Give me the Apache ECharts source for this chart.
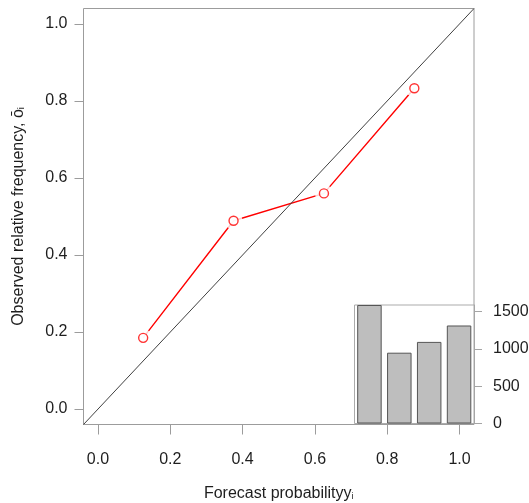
<!DOCTYPE html>
<html>
<head>
<meta charset="utf-8">
<title>Reliability diagram</title>
<script src="https://cdn.jsdelivr.net/npm/echarts@6/dist/echarts.min.js"></script>
<style>
  html, body { margin: 0; padding: 0; background: #fff; }
  #chart { width: 529px; height: 503px; }
</style>
</head>
<body>
<div id="chart"></div>
<script>
// Reliability diagram: observed frequency per forecast-probability bin,
// with a sharpness histogram (cases per bin) in the lower-right corner.
const forecastProb = [0.125, 0.375, 0.625, 0.875];
const observedFreq = [0.185, 0.489, 0.560, 0.833];
const binLabels = ['1', '2', '3', '4'];
const binCounts = [1590, 950, 1095, 1315];

const probTicks = [0, 0.2, 0.4, 0.6, 0.8, 1.0];
const countTicks = [0, 500, 1000, 1500];

const axisMin = -0.04;
const axisMax = 1.04;

const FONT = 'Liberation Sans, Arial, Helvetica, sans-serif';
const TEXT = '#1e1e1e';
const FRAME = '#9c9c9c';

const points = forecastProb.map((p, i) => [p, observedFreq[i]]);

const chart = echarts.init(document.getElementById('chart'), null, { renderer: 'canvas' });

const titleRich = {
  a: { fontSize: 16, color: TEXT, fontFamily: FONT },
  s: { fontSize: 9, color: TEXT, fontFamily: FONT, verticalAlign: 'bottom', padding: [7, 0, 0, 0] }
};

chart.setOption({
  animation: false,
  backgroundColor: '#ffffff',
  textStyle: { fontFamily: FONT },
  grid: [
    {
      left: 83.5, right: 55, top: 8.5, bottom: 78.5,
      outerBoundsMode: 'none', containLabel: false,
      show: true, borderColor: FRAME, borderWidth: 1,
      backgroundColor: 'transparent'
    },
    {
      left: 354.5, right: 55, top: 305, bottom: 79.5,
      outerBoundsMode: 'none', containLabel: false,
      show: true, borderColor: '#ababab', borderWidth: 1,
      backgroundColor: '#ffffff', z: 10
    }
  ],
  xAxis: [
    {
      gridIndex: 0, type: 'value', min: axisMin, max: axisMax,
      axisLine: { show: false, onZero: false },
      splitLine: { show: false },
      axisTick: { show: true, inside: false, customValues: probTicks, length: 10, lineStyle: { color: FRAME } },
      axisLabel: {
        customValues: probTicks, margin: 27, fontSize: 16, color: TEXT, fontFamily: FONT,
        formatter: v => v.toFixed(1)
      },
      name: '{a|Forecast probabilityy}{s|i}',
      nameLocation: 'middle', nameGap: 61,
      nameTextStyle: { rich: titleRich }
    },
    {
      gridIndex: 1, type: 'category', data: binLabels,
      axisLine: { show: false }, axisTick: { show: false }, axisLabel: { show: false },
      splitLine: { show: false }, z: 10
    }
  ],
  yAxis: [
    {
      gridIndex: 0, type: 'value', min: axisMin, max: axisMax,
      axisLine: { show: false, onZero: false },
      splitLine: { show: false },
      axisTick: { show: true, inside: false, customValues: probTicks, length: 9, lineStyle: { color: FRAME } },
      axisLabel: {
        customValues: probTicks, margin: 16, fontSize: 16, color: TEXT, fontFamily: FONT,
        formatter: v => v.toFixed(1)
      },
      name: '{a|Observed relative frequency, ō}{s|i}',
      nameLocation: 'middle', nameGap: 57, nameRotate: 90,
      nameTextStyle: { rich: titleRich }
    },
    {
      gridIndex: 1, type: 'value', position: 'right', min: 0, max: binCounts[0],
      axisLine: { show: true, onZero: false, lineStyle: { color: '#a5a5a5' } },
      splitLine: { show: false },
      axisTick: { show: true, inside: false, customValues: countTicks, length: 8, lineStyle: { color: '#a5a5a5' } },
      axisLabel: {
        customValues: countTicks, margin: 19, fontSize: 16, color: TEXT, fontFamily: FONT,
        formatter: v => String(v)
      },
      z: 10
    }
  ],
  series: [
    {
      // reliability curve
      type: 'line', xAxisIndex: 0, yAxisIndex: 0, data: points,
      showSymbol: false, silent: true, z: 2,
      lineStyle: { color: '#ff0000', width: 1.4 }
    },
    {
      // white halo so the curve stops short of each marker
      type: 'scatter', xAxisIndex: 0, yAxisIndex: 0, data: points,
      symbol: 'circle', symbolSize: 18, silent: true, z: 3,
      itemStyle: { color: '#ffffff' }
    },
    {
      // perfect-reliability diagonal
      type: 'line', xAxisIndex: 0, yAxisIndex: 0,
      data: [[axisMin, axisMin], [axisMax, axisMax]],
      showSymbol: false, silent: true, z: 4,
      lineStyle: { color: '#404040', width: 1 }
    },
    {
      type: 'scatter', xAxisIndex: 0, yAxisIndex: 0, data: points,
      symbol: 'circle', symbolSize: 9, silent: true, z: 5,
      itemStyle: { color: '#ffffff', borderColor: '#ff0000', borderWidth: 1.4 }
    },
    {
      // sharpness histogram
      type: 'bar', xAxisIndex: 1, yAxisIndex: 1, data: binCounts,
      barCategoryGap: '18%', silent: true, z: 11,
      itemStyle: { color: '#bebebe', borderColor: '#555555', borderWidth: 1 }
    }
  ]
});
</script>
</body>
</html>
